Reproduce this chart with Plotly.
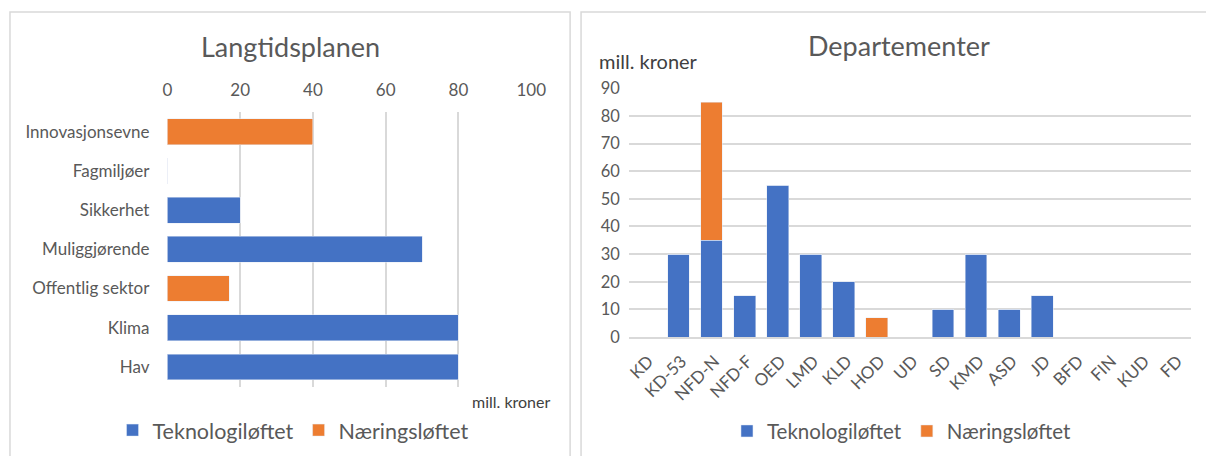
import plotly.graph_objects as go

# Left chart: Langtidsplanen
ltp_categories = ["Innovasjonsevne", "Fagmiljøer", "Sikkerhet", "Muliggjørende",
                  "Offentlig sektor", "Klima", "Hav"]
ltp_tekno = [0, 0, 20, 70, 0, 80, 80]
ltp_naering = [40, 0, 0, 0, 17, 0, 0]

# Right chart: Departementer
dep_categories = ["KD", "KD-53", "NFD-N", "NFD-F", "OED", "LMD", "KLD", "HOD", "UD",
                  "SD", "KMD", "ASD", "JD", "BFD", "FIN", "KUD", "FD"]
dep_tekno = [0, 30, 35, 15, 55, 30, 20, 0, 0, 10, 30, 10, 15, 0, 0, 0, 0]
dep_naering = [0, 0, 50, 0, 0, 0, 0, 7, 0, 0, 0, 0, 0, 0, 0, 0, 0]

series_names = ["Teknologiløftet", "Næringsløftet"]
BLUE = "#4472C4"
ORANGE = "#ED7D31"
TXT = "#595959"
GRID = "#D9D9D9"
FONT = "Lato"

W, H = 1206, 456
# map screen pixels (as photographed) to paper fractions
OX, OY, BW, BH = 3, 8, 1190, 440
def px(x):
    return (x - OX) / BW
def py(y):
    return 1 - (y - OY) / BH
def clamp(v):
    return max(0.0, min(1.0, v))

fig = go.Figure()
fig.add_trace(go.Bar(y=ltp_categories, x=ltp_tekno, orientation="h", name=series_names[0],
                     marker_color=BLUE, xaxis="x", yaxis="y", legend="legend"))
fig.add_trace(go.Bar(y=ltp_categories, x=ltp_naering, orientation="h", name=series_names[1],
                     marker_color=ORANGE, xaxis="x", yaxis="y", legend="legend"))
fig.add_trace(go.Bar(x=dep_categories, y=dep_tekno, name=series_names[0],
                     marker_color=BLUE, xaxis="x2", yaxis="y2", legend="legend2"))
fig.add_trace(go.Bar(x=dep_categories, y=dep_naering, name=series_names[1],
                     marker_color=ORANGE, xaxis="x2", yaxis="y2", legend="legend2"))

fig.update_layout(
    width=W, height=H,
    margin=dict(l=0, r=0, t=0, b=0),
    paper_bgcolor="white", plot_bgcolor="white",
    barmode="stack", bargap=0.34,
    font=dict(family=FONT, color=TXT, size=15),
    xaxis=dict(domain=[clamp(px(166)), clamp(px(531))], anchor="y", side="top", range=[0, 100],
               dtick=20, showgrid=True, gridcolor=GRID, gridwidth=1.5, zeroline=False,
               tickfont=dict(size=17, color=TXT), ticks="", showline=False,
               ticklabelstandoff=12),
    yaxis=dict(domain=[clamp(py(388)), clamp(py(111))], anchor="x", autorange="reversed",
               tickfont=dict(size=17, color=TXT), ticks="", ticklabelstandoff=17,
               showgrid=False, showline=False),
    xaxis2=dict(domain=[clamp(px(629)), clamp(px(1196))], anchor="y2", tickangle=-45,
                tickfont=dict(size=17, color=TXT), ticks="", showgrid=False,
                showline=True, linecolor=GRID, linewidth=1.5, ticklabelstandoff=6,
                ticklabelshift=3),
    yaxis2=dict(domain=[clamp(py(338)), clamp(py(87))], anchor="x2", range=[0, 90], dtick=10,
                showgrid=True, gridcolor=GRID, gridwidth=1.5, zeroline=False,
                tickfont=dict(size=16.5, color=TXT), ticks="", ticklabelstandoff=8,
                showline=False),
    legend=dict(orientation="h", x=px(292), xanchor="center", y=py(432), yanchor="middle",
                font=dict(size=21.5, color=TXT), traceorder="normal", itemwidth=30),
    legend2=dict(orientation="h", x=px(903), xanchor="center", y=py(433), yanchor="middle",
                 font=dict(size=20.5, color=TXT), traceorder="normal", itemwidth=30),
    shapes=[
        dict(type="rect", xref="paper", yref="paper", x0=px(8), x1=px(570), y0=py(470), y1=py(10),
             line=dict(color=GRID, width=1.5), fillcolor="rgba(0,0,0,0)", layer="below"),
        dict(type="rect", xref="paper", yref="paper", x0=px(581), x1=px(1220), y0=py(470), y1=py(10),
             line=dict(color=GRID, width=1.5), fillcolor="rgba(0,0,0,0)", layer="below"),
    ],
    annotations=[
        dict(text="Langtidsplanen", xref="paper", yref="paper", x=px(289), y=py(45),
             xanchor="center", yanchor="middle", showarrow=False, font=dict(size=27, color=TXT)),
        dict(text="Departementer", xref="paper", yref="paper", x=px(900), y=py(44),
             xanchor="center", yanchor="middle", showarrow=False, font=dict(size=27, color=TXT)),
        dict(text="mill. kroner", xref="paper", yref="paper", x=px(470), y=py(403),
             xanchor="left", yanchor="middle", showarrow=False, font=dict(size=16, color="#404040")),
        dict(text="mill. kroner", xref="paper", yref="paper", x=px(597), y=py(59),
             xanchor="left", yanchor="middle", showarrow=False, font=dict(size=20, color="#404040")),
    ],
)

post = """
var s = document.createElement('style');
s.textContent = 'html,body{margin:0;padding:0;overflow:hidden;}';
document.head.appendChild(s);
"""

fig.write_html("out.html", config={"displayModeBar": False}, post_script=post)
